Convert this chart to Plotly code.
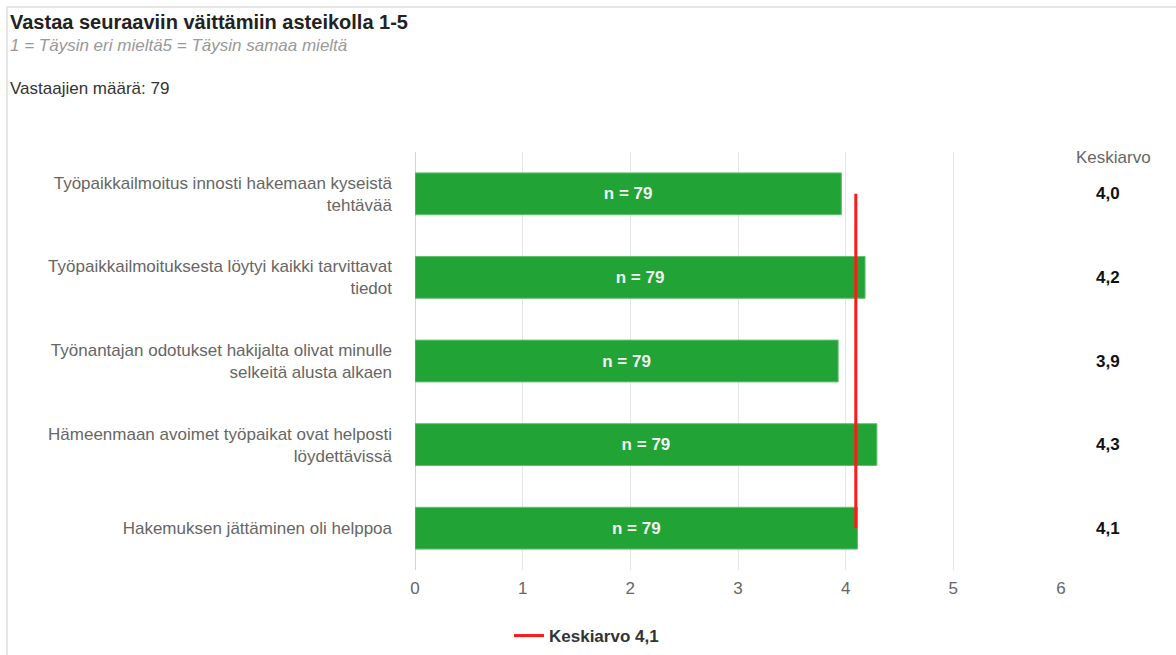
import plotly.graph_objects as go

# Survey statements (Finnish), answer counts and mean scores on the 1-5 scale
statements = [
    "Työpaikkailmoitus innosti hakemaan kyseistä<br>tehtävää",
    "Työpaikkailmoituksesta löytyi kaikki tarvittavat<br>tiedot",
    "Työnantajan odotukset hakijalta olivat minulle<br>selkeitä alusta alkaen",
    "Hämeenmaan avoimet työpaikat ovat helposti<br>löydettävissä",
    "Hakemuksen jättäminen oli helppoa",
]
means = [3.96, 4.18, 3.93, 4.29, 4.11]
counts = [79, 79, 79, 79, 79]
respondents = 79
x_ticks = [0, 1, 2, 3, 4, 5, 6]

overall_mean = sum(m * c for m, c in zip(means, counts)) / sum(counts)

W, H = 1176, 655
L, R, T, B = 415, 115, 152, 85
pw, ph = W - L - R, H - T - B


def px(x):
    return (x - L) / pw


def py(y):
    return (H - B - y) / ph


def fmt(v):
    return f"{v:.1f}".replace(".", ",")


FONT = "Liberation Sans, Arial, sans-serif"

fig = go.Figure()

fig.add_trace(go.Bar(
    x=means,
    y=statements,
    orientation="h",
    width=0.5,
    marker=dict(color="#21a336", line=dict(color="#62c072", width=1)),
    text=[f"n = {c}" for c in counts],
    textposition="inside",
    insidetextanchor="middle",
    textfont=dict(family=FONT, size=17, color="#f2f2f2", weight="bold"),
    showlegend=False,
    hoverinfo="skip",
))

fig.add_trace(go.Scatter(
    x=[overall_mean] * len(statements),
    y=statements,
    mode="lines",
    line=dict(color="#ff1a1a", width=3),
    name=f"<b>Keskiarvo {fmt(overall_mean)}</b>",
    showlegend=True,
    hoverinfo="skip",
))

annotations = [
    dict(text="<b>Vastaa seuraaviin väittämiin asteikolla 1-5</b>",
         x=px(8), y=py(22), font=dict(size=20, color="#222222")),
    dict(text="<i>1 = Täysin eri mieltä5 = Täysin samaa mieltä</i>",
         x=px(8), y=py(46), font=dict(size=17, color="#999999")),
    dict(text=f"Vastaajien määrä: {respondents}",
         x=px(8), y=py(88), font=dict(size=17, color="#333333")),
]
for a in annotations:
    a.update(xref="paper", yref="paper", xanchor="left", yanchor="middle",
             showarrow=False)

annotations.append(dict(text="Keskiarvo", x=px(1113), y=py(157), xref="paper",
                        yref="paper", xanchor="center", yanchor="middle",
                        showarrow=False, font=dict(size=17, color="#666666")))
for s, m in zip(statements, means):
    annotations.append(dict(text=f"<b>{fmt(m)}</b>", x=px(1108), y=s,
                            xref="paper", yref="y", xanchor="center",
                            yanchor="middle", showarrow=False,
                            font=dict(size=17, color="#111111")))

fig.update_layout(
    width=W, height=H,
    margin=dict(l=L, r=R, t=T, b=B, autoexpand=False),
    paper_bgcolor="white",
    plot_bgcolor="white",
    font=dict(family=FONT, size=17, color="#666666"),
    separators=", ",
    bargap=0.5,
    annotations=annotations,
    shapes=[dict(type="rect", xref="paper", yref="paper",
                 x0=px(7), x1=px(1190), y0=py(670), y1=py(7),
                 line=dict(color="#e6e6e6", width=2), layer="below")],
    legend=dict(orientation="h", x=px(509), y=py(636), xanchor="left",
                yanchor="middle", font=dict(size=17, color="#333333"),
                bgcolor="rgba(0,0,0,0)"),
    xaxis=dict(range=[0, 6], tickvals=x_ticks, showgrid=True,
               gridcolor="#e6e6e6", gridwidth=1, zeroline=True,
               zerolinecolor="#ccd6eb", zerolinewidth=1, showline=False,
               ticks="", ticklabelstandoff=6,
               tickfont=dict(size=17, color="#666666"), fixedrange=True),
    yaxis=dict(autorange="reversed", showgrid=False, showline=False,
               ticks="", ticklabelstandoff=22,
               tickfont=dict(size=17, color="#666666"), fixedrange=True),
)

fig.write_html("out.html")
